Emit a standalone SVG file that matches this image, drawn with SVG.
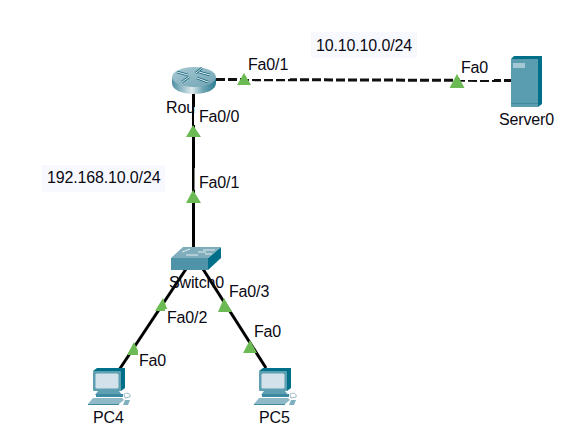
<svg xmlns="http://www.w3.org/2000/svg" width="574" height="430" viewBox="0 0 574 430">
<style>
text{font-family:"Liberation Sans",Arial,sans-serif;font-size:16px;letter-spacing:-.15px;fill:#0a0a14}
.w{stroke:#000;stroke-width:3;fill:none}
.d{stroke:#111;stroke-width:3;fill:none;stroke-dasharray:9 3}
.t{fill:#6cba54}
.bg{fill:#fff}
.net{fill:#f8f9ff}
.ar{stroke:#1d6a80;stroke-width:2.500;fill:none}
.ai{stroke:#e6f0f3;stroke-width:1;fill:none}
</style>
<defs>
<linearGradient id="rg" x1="0" x2="1" y1="0" y2="0">
<stop offset="0" stop-color="#4f8fa3"/><stop offset=".45" stop-color="#dbe9ec"/><stop offset=".7" stop-color="#6fa5b5"/><stop offset="1" stop-color="#2f7d92"/>
</linearGradient>
<linearGradient id="rt" x1="0" x2="1" y1="0" y2="1">
<stop offset="0" stop-color="#a9cbd5"/><stop offset="1" stop-color="#6fa2b2"/>
</linearGradient>
<g id="pc">
<path d="M93 371 L97 368 L125 368 L125 388 L121 391 Z" fill="#00708a"/>
<rect x="93" y="371" width="28" height="20" rx="1" fill="#5e9fb2"/>
<rect x="95.500" y="373.500" width="23" height="15" rx="1.500" fill="#d3e2ea"/>
<path d="M98 391 H119 L122 395 H95 Z" fill="#5e9fb2"/>
<rect x="96" y="394" width="27" height="3" fill="#3c8aa1"/>
<path d="M93 398 H122 L124 400 L119 404 H88 Z" fill="#8fb9c6"/>
<path d="M88 404 H119 V405 H88 Z" fill="#3f8aa0"/>
<path d="M124 394 C128 392 131 394 130 397 L125 398 Z" fill="#fff" stroke="#9dbcc7"/>
<path d="M125 400 H130 L128 405 H123 Z" fill="#7fb0bf"/>
</g>
</defs>
<rect class="net" x="42" y="165" width="123" height="27"/>
<rect class="net" x="311" y="32" width="106" height="26"/>
<g id="connectors">
<path class="w" d="M193.500 94V247"/>
<path class="d" d="M216 79.500L511 80.500"/>
<path class="w" d="M186 269L119 370"/>
<path class="w" d="M203 269L266 368"/>
<path class="t" d="M244 73L251 85H237Z"/>
<path class="t" d="M457 74L464.500 88H449.500Z"/>
<path class="t" d="M193 125L201 137H186Z"/>
<path class="t" d="M193 190L201 203H186Z"/>
<path class="t" d="M163 298L168 311H155Z"/>
<path class="t" d="M224 298L232 312H218Z"/>
<path class="t" d="M134 342L140 355H127Z"/>
<path class="t" d="M250 340L257 353H243Z"/>
</g>
<g id="label-backgrounds">
<rect class="bg" x="247" y="55" width="43" height="24"/>
<rect class="bg" x="460" y="58" width="34" height="22"/>
<rect class="bg" x="194" y="107" width="46" height="18"/>
<rect class="bg" x="194.500" y="168" width="45" height="22"/>
<rect class="bg" x="165" y="309" width="44" height="19"/>
<rect class="bg" x="138" y="351" width="32" height="19"/>
</g>
<g id="router0">
<path d="M172 78V83C172 90 182 94 194 94S216 90 216 83V78Z" fill="url(#rg)"/>
<ellipse cx="194" cy="77" rx="22" ry="10" fill="url(#rt)"/>
<path class="ar" d="M177 72L188 75M182 82L189 77M199 72L210 75M197 78L208 82M196 73L202 68"/>
<path class="ai" d="M177 72L188 75M182 82L189 77M199 72L210 75M197 78L208 82M196 73L202 68"/>
<text x="166" y="113">Rou</text>
</g>
<g id="server0">
<path d="M511 59L514 56H542V104L538 107Z" fill="#00708a"/>
<rect x="511" y="59" width="27" height="48" fill="#5a9db1"/>
<rect x="513" y="63" width="12" height="5" fill="#a5c9d4"/>
<rect x="511" y="103" width="27" height="1" fill="#3f8aa0"/>
<text x="499" y="125">Server0</text>
</g>
<g id="switch0">
<path d="M208 258L221 247V258L208 270Z" fill="#00708a"/>
<path d="M171 258L183 247H221L208 258Z" fill="#7fadbc"/>
<rect x="171" y="258" width="37" height="12" fill="#4f93a8"/>
<path d="M186 255H198M203 250H215M198 252H206M205 254H212M182 252L190 249" stroke="#e4eff2" stroke-width="1" fill="none"/>
<text x="169" y="288">Switch0</text>
</g>
<g id="pc4"><use href="#pc"/><text x="93" y="423">PC4</text></g>
<g id="pc5"><use href="#pc" transform="translate(166 0)"/><text x="259" y="423">PC5</text></g>
<g id="labels">
<text x="47" y="183">192.168.10.0/24</text>
<text x="316" y="51">10.10.10.0/24</text>
<text x="248" y="70">Fa0/1</text>
<text x="461" y="73">Fa0</text>
<text x="199" y="122">Fa0/0</text>
<text x="199" y="188">Fa0/1</text>
<text x="229" y="297">Fa0/3</text>
<text x="167" y="323">Fa0/2</text>
<text x="139" y="366">Fa0</text>
<text x="254" y="337">Fa0</text>
</g>
</svg>
